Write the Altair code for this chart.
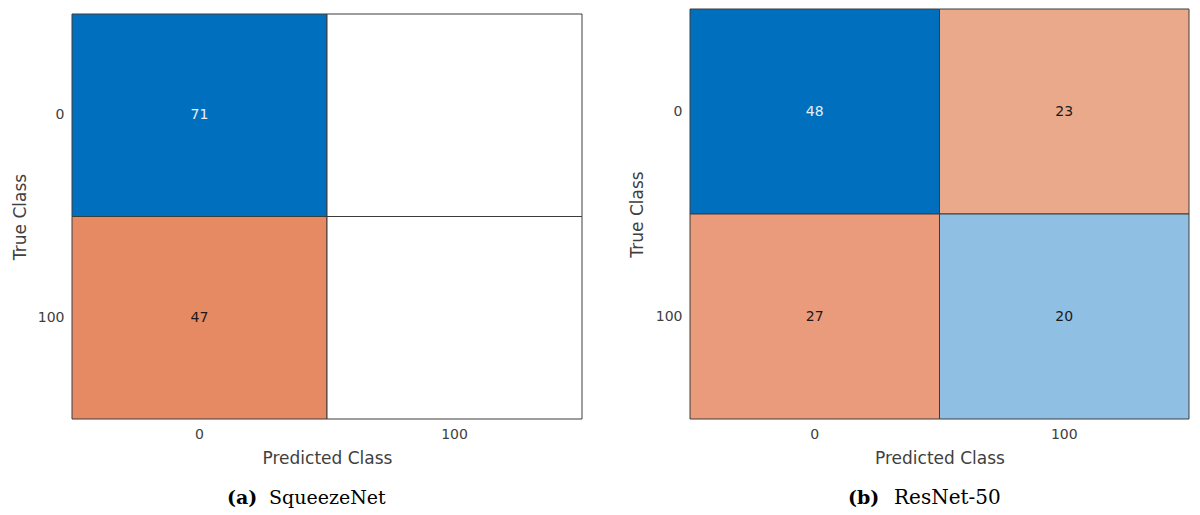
import altair as alt
import pandas as pd

# ---- data ----
true_classes = ["0", "100"]
pred_classes = ["0", "100"]

# counts, row-major: (true 0, pred 0), (true 0, pred 100), (true 100, pred 0), (true 100, pred 100)
squeeze_counts = [71, 0, 47, 0]
resnet_counts = [48, 23, 27, 20]

# cell fill colours (style)
squeeze_fills = ["#0070BE", "#FFFFFF", "#E68A64", "#FFFFFF"]
resnet_fills = ["#0070BE", "#EBA98B", "#E99B7B", "#8FBFE2"]
squeeze_text_colors = ["#E8EEF5", "#1A1A1A", "#1A1A1A", "#1A1A1A"]
resnet_text_colors = ["#E8EEF5", "#1A1A1A", "#1A1A1A", "#1A1A1A"]

caption_tags = ["(a)", "(b)"]
caption_names = ["SqueezeNet", "ResNet-50"]

x_title = "Predicted Class"
y_title = "True Class"


def make_df(counts, fills, tcolors):
    rows = []
    i = 0
    for t in true_classes:
        for p in pred_classes:
            c = counts[i]
            rows.append({
                "true": t,
                "pred": p,
                "count": c,
                "label": str(c) if c > 0 else "",
                "fill": fills[i],
                "tcolor": tcolors[i],
            })
            i += 1
    return pd.DataFrame(rows)


def panel(df, w, h, top_gap, title_x, tag, name, tag_x, name_x, cap_y, name_size):
    base = alt.Chart(df).encode(
        x=alt.X("pred:N", sort=pred_classes,
                axis=alt.Axis(title=x_title, labelAngle=0, labelPadding=8,
                              titlePadding=9)),
        y=alt.Y("true:N", sort=true_classes,
                scale=alt.Scale(range=[top_gap, h]),
                axis=alt.Axis(title=y_title, labelPadding=8,
                              titleX=title_x, titleY=(h + top_gap) / 2,
                              titleAngle=270, titleAlign="center",
                              titleBaseline="middle")),
    )
    rects = base.mark_rect(stroke="#3C3C3C", strokeWidth=1).encode(
        color=alt.Color("fill:N", scale=None)
    )
    texts = base.mark_text(fontSize=14, font="DejaVu Sans").encode(
        text="label:N",
        color=alt.Color("tcolor:N", scale=None),
    )
    tag_mark = alt.Chart(pd.DataFrame({"t": [tag]})).mark_text(
        font="DejaVu Serif", fontWeight="bold", fontSize=19, align="left",
        baseline="alphabetic", color="#000000"
    ).encode(text="t:N", x=alt.value(tag_x), y=alt.value(cap_y))
    name_mark = alt.Chart(pd.DataFrame({"t": [name]})).mark_text(
        font="DejaVu Serif", fontSize=name_size, align="left",
        baseline="alphabetic", color="#000000"
    ).encode(text="t:N", x=alt.value(name_x), y=alt.value(cap_y))
    return alt.layer(rects, texts, tag_mark, name_mark).properties(width=w, height=h)


left = panel(make_df(squeeze_counts, squeeze_fills, squeeze_text_colors),
             510, 410, 5, -52, caption_tags[0], caption_names[0], 155, 197, 495, 19)

right = panel(make_df(resnet_counts, resnet_fills, resnet_text_colors),
              499, 410, 0, -53, caption_tags[1], caption_names[1], 158, 204, 495, 20)

chart = alt.hconcat(left, right, spacing=45).properties(
    padding={"left": 3, "top": 0, "right": 0, "bottom": 0}
).configure_view(
    strokeWidth=0
).configure_axis(
    domain=False, ticks=False, grid=False,
    labelFont="DejaVu Sans", labelFontSize=14, labelColor="#404040",
    titleFont="DejaVu Sans", titleFontSize=17, titleFontWeight="normal",
    titleColor="#404040",
)

chart.save("out.html", embed_options={"renderer": "svg", "actions": False})
